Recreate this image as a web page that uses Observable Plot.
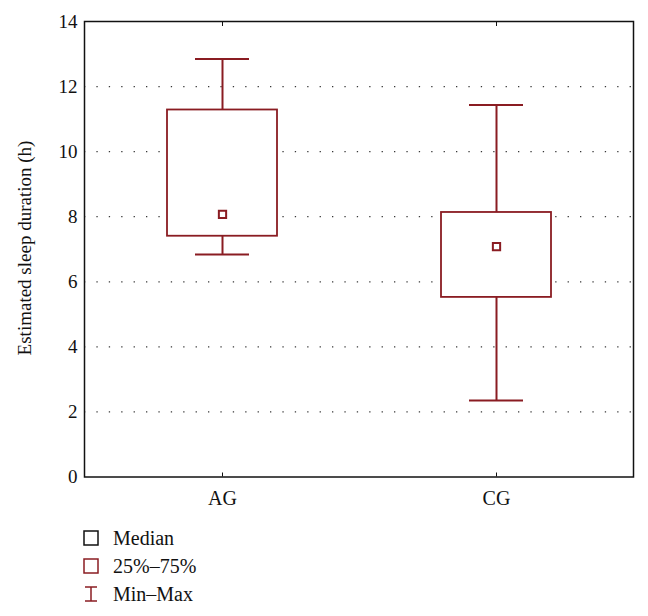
<!DOCTYPE html>
<html>
<head>
<meta charset="utf-8">
<script src="https://cdn.jsdelivr.net/npm/d3@7"></script>
<script src="https://cdn.jsdelivr.net/npm/@observablehq/plot@0.6"></script>
<style>
  body { margin: 0; background: #fff; font-family: "Liberation Serif", serif; }
  #chart svg text { font-family: "Liberation Serif", serif; }
  #legend { margin-left: 83px; margin-top: 8px; font-size: 20px; color: #111; font-family: "Liberation Serif", serif; }
  #legend .row { display: flex; align-items: center; height: 28px; }
  #legend svg { margin-right: 14px; }
</style>
</head>
<body>
<div id="chart"></div>
<div id="legend"></div>
<script>
const groups = ["AG", "CG"];
const mins = [6.84, 2.35];
const q1s = [7.40, 5.52];
const medians = [8.07, 7.08];
const q3s = [11.28, 8.13];
const maxs = [12.85, 11.43];
const yTicks = [0, 2, 4, 6, 8, 10, 12, 14];
const gridTicks = [2, 4, 6, 8, 10, 12];

const data = groups.map((g, i) => ({group: g, min: mins[i], q1: q1s[i], median: medians[i], q3: q3s[i], max: maxs[i]}));
const red = "#8a1c22";

const chart = Plot.plot({
  width: 648,
  height: 516,
  marginTop: 21,
  marginBottom: 39.5,
  marginLeft: 84,
  marginRight: 15,
  style: {fontFamily: "'Liberation Serif', serif", fontSize: "19px", color: "#111", background: "#fff"},
  x: {domain: groups, padding: 0, label: null},
  y: {domain: [0, 14], label: null},
  marks: [
    Plot.ruleY(gridTicks, {stroke: "#222", strokeWidth: 1.2, strokeDasharray: "1.3,11.1", strokeOpacity: 0.9}),
    Plot.axisY(yTicks, {tickSize: 0, tickPadding: 7, fontSize: 19}),
    Plot.axisX({anchor: "bottom", tickSize: -4, tickPadding: 18, fontSize: 20, label: null}),
    Plot.axisX({anchor: "top", tickSize: -4, label: null, tickFormat: () => ""}),
    Plot.ruleX(data, {x: "group", y1: "min", y2: "max", stroke: red, strokeWidth: 2}),
    Plot.barY(data, {x: "group", y1: "q1", y2: "q3", fill: "#fff", stroke: red, strokeWidth: 1.8, insetLeft: 82, insetRight: 82}),
    Plot.tickY(data, {x: "group", y: "min", stroke: red, strokeWidth: 2, inset: 110}),
    Plot.tickY(data, {x: "group", y: "max", stroke: red, strokeWidth: 2, inset: 110}),
    Plot.dot(data, {x: "group", y: "median", symbol: "square", r: 4.1, fill: "#fff", stroke: red, strokeWidth: 2}),
    Plot.frame({stroke: "#111", strokeWidth: 1.5})
  ]
});
document.getElementById("chart").appendChild(chart);

// y-axis title
const svg = d3.select(chart);
svg.append("text")
  .attr("transform", "translate(31,248) rotate(-90)")
  .attr("text-anchor", "middle")
  .attr("font-size", 19)
  .attr("fill", "#111")
  .text("Estimated sleep duration (h)");

// legend
const legendItems = [
  {label: "Median", kind: "square", color: "#111"},
  {label: "25%\u201375%", kind: "square", color: red},
  {label: "Min\u2013Max", kind: "whisker", color: red}
];
const legend = d3.select("#legend");
for (const item of legendItems) {
  const row = legend.append("div").attr("class", "row");
  const s = row.append("svg").attr("width", 16).attr("height", 18);
  if (item.kind === "square") {
    s.append("rect").attr("x", 1).attr("y", 2).attr("width", 14).attr("height", 14)
      .attr("fill", "none").attr("stroke", item.color).attr("stroke-width", 1.5);
  } else {
    s.append("line").attr("x1", 2).attr("x2", 14).attr("y1", 2).attr("y2", 2).attr("stroke", item.color).attr("stroke-width", 1.5);
    s.append("line").attr("x1", 8).attr("x2", 8).attr("y1", 2).attr("y2", 16).attr("stroke", item.color).attr("stroke-width", 1.5);
    s.append("line").attr("x1", 2).attr("x2", 14).attr("y1", 16).attr("y2", 16).attr("stroke", item.color).attr("stroke-width", 1.5);
  }
  row.append("span").text(item.label);
}
</script>
</body>
</html>
